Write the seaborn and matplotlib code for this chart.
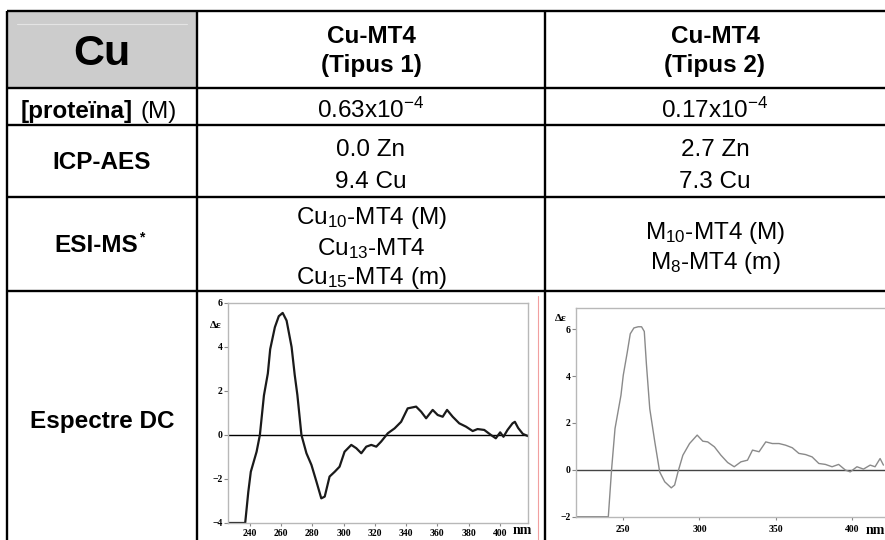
import numpy as np
import pandas as pd
import matplotlib
matplotlib.use("Agg")
import matplotlib.pyplot as plt
import seaborn as sns
from matplotlib.patches import Rectangle

sns.set_style("white")
plt.rcParams["font.family"] = ["Liberation Sans", "DejaVu Sans"]
plt.rcParams["mathtext.fontset"] = "custom"
plt.rcParams["mathtext.rm"] = "Liberation Sans"
plt.rcParams["mathtext.default"] = "regular"
plt.rcParams["text.color"] = "black"
plt.rcParams["xtick.color"] = "black"
plt.rcParams["ytick.color"] = "black"

# table text
col_top = ["Cu-MT4", "Cu-MT4"]
col_sub = ["(Tipus 1)", "(Tipus 2)"]
proteina = ["0.63x10$^{-4}$", "0.17x10$^{-4}$"]
icp_zn = ["0.0 Zn", "2.7 Zn"]
icp_cu = ["9.4 Cu", "7.3 Cu"]
esi_1 = ["Cu$_{10}$-MT4 (M)", "Cu$_{13}$-MT4", "Cu$_{15}$-MT4 (m)"]
esi_2 = ["M$_{10}$-MT4 (M)", "M$_{8}$-MT4 (m)"]

# CD spectrum, Tipus 1 (nm, delta epsilon)
nm_1 = [226, 237, 239, 240.6, 244.3, 246.4, 249, 251.5, 253, 256, 258.5, 261, 263.5,
        266.7, 268.7, 270.4, 273, 276.2, 279.4, 282.6, 285.7, 287.9, 291, 294.3, 297.4,
        300.6, 304.9, 308.1, 311.3, 314.5, 317.7, 320.9, 324, 328.3, 332.6, 336.8, 341,
        346.4, 349.6, 352.8, 357, 360.2, 363.4, 366.2, 369.8, 374, 378.3, 382.6, 385.7,
        390, 394.3, 397.4, 400.2, 402.3, 404.9, 408.1, 409.6, 411.7, 414.7, 418]
de_1 = [-4, -4, -2.58, -1.67, -0.76, 0, 1.8, 2.8, 3.9, 4.9, 5.4, 5.55, 5.2,
        4.0, 2.73, 1.82, 0, -0.83, -1.36, -2.12, -2.88, -2.8, -1.89, -1.67, -1.44,
        -0.76, -0.45, -0.6, -0.83, -0.53, -0.45, -0.53, -0.3, 0.08, 0.3, 0.6, 1.21,
        1.29, 1.06, 0.76, 1.14, 0.91, 0.83, 1.14, 0.83, 0.53, 0.38, 0.18, 0.27,
        0.23, 0, -0.15, 0.12, -0.08, 0.23, 0.53, 0.6, 0.32, 0.05, -0.05]

# CD spectrum, Tipus 2
nm_2 = [219, 240.2, 242.4, 244.6, 248.5, 250, 252.6, 254.6, 257, 259.8, 262, 263.8,
        265.2, 267.4, 270.7, 273.9, 277.2, 281.5, 283.7, 285.9, 289.1, 293.5, 298.5,
        302.2, 305.4, 309.8, 314.1, 318.5, 322.8, 327.2, 331.5, 334.8, 339.1, 343.5,
        347.8, 352.2, 356.5, 360.9, 365.2, 369.6, 373.9, 378.3, 382.6, 387, 391.3,
        395.7, 398.9, 403.3, 407.6, 412, 415.2, 418.5, 420.7]
de_2 = [-2, -2, 0.06, 1.76, 3.18, 4.03, 5.0, 5.8, 6.05, 6.1, 6.1, 5.9,
        4.5, 2.6, 1.19, -0.09, -0.51, -0.77, -0.65, -0.09, 0.62, 1.12, 1.48,
        1.22, 1.19, 0.98, 0.62, 0.31, 0.13, 0.34, 0.41, 0.84, 0.77, 1.19,
        1.12, 1.12, 1.05, 0.94, 0.70, 0.65, 0.55, 0.27, 0.23, 0.13, 0.23,
        -0.01, -0.09, 0.13, 0.03, 0.2, 0.13, 0.48, 0.2]

fig = plt.figure(figsize=(8.85, 5.4), dpi=100)

# background axes in pixel units for the table
bg = fig.add_axes([0, 0, 1, 1])
bg.set_xlim(0, 885)
bg.set_ylim(540, 0)
bg.axis("off")

bg.add_patch(Rectangle((7, 11), 190, 77, fc="#cccccc", ec="none"))
bg.plot([17, 187], [24, 24], color="#e4e4e4", lw=0.8)

for y in [11, 88, 125, 197, 291]:
    bg.plot([7, 885], [y, y], color="black", lw=1.7, solid_capstyle="butt")
for x in [7, 197, 545]:
    bg.plot([x, x], [11, 540], color="black", lw=1.7, solid_capstyle="butt")
bg.plot([538, 538], [296, 540], color="#f2a0a0", lw=0.8)

fs = 17.5
bg.text(102, 65, "Cu", fontsize=31, fontweight="bold", ha="center", va="baseline")
bg.text(133, 118, "[proteïna]", fontsize=fs, fontweight="bold", ha="right", va="baseline")
bg.text(140, 118, "(M)", fontsize=fs, ha="left", va="baseline")
bg.text(102, 169, "ICP-AES", fontsize=fs, fontweight="bold", ha="center", va="baseline")
bg.text(96, 252, "ESI-MS", fontsize=fs, fontweight="bold", ha="center", va="baseline")
bg.text(139, 241, "*", fontsize=10, fontweight="bold", ha="left", va="baseline")
bg.text(102, 428, "Espectre DC", fontsize=fs, fontweight="bold", ha="center", va="baseline")

cx = [371, 715]
for i in range(2):
    bg.text(cx[i], 43, col_top[i], fontsize=fs, fontweight="bold", ha="center", va="baseline")
    bg.text(cx[i], 72, col_sub[i], fontsize=fs, fontweight="bold", ha="center", va="baseline")
    bg.text(cx[i], 118, proteina[i], fontsize=fs, ha="center", va="baseline")
    bg.text(cx[i], 156, icp_zn[i], fontsize=fs, ha="center", va="baseline")
    bg.text(cx[i], 188, icp_cu[i], fontsize=fs, ha="center", va="baseline")

for s, yb in zip(esi_1, [224, 255, 284]):
    bg.text(cx[0], yb, s, fontsize=fs, ha="center", va="baseline")
for s, yb in zip(esi_2, [239, 269]):
    bg.text(cx[1], yb, s, fontsize=fs, ha="center", va="baseline")


def style_cd(ax, xticks, yticks, xpad):
    ax.set_xticks(xticks)
    ax.set_yticks(yticks)
    ax.set_xlabel("")
    ax.set_ylabel("")
    ax.tick_params(axis="y", length=3, width=0.8, color="#888888", labelcolor="black",
                   pad=1, left=True)
    ax.tick_params(axis="x", length=2, width=0.8, color="#888888", labelcolor="black",
                   pad=xpad, bottom=True)
    for lab in ax.get_xticklabels() + ax.get_yticklabels():
        lab.set_fontfamily("Liberation Serif")
        lab.set_fontweight("bold")
        lab.set_fontsize(7)
    for sp in ax.spines.values():
        sp.set_color("#b8b8b8")
        sp.set_linewidth(1.0)
    ax.set_facecolor("white")


# spectrum Tipus 1
ax1 = fig.add_axes([228 / 885, 17 / 540, 300 / 885, 220 / 540])
df1 = pd.DataFrame({"nm": nm_1, "de": de_1})
ax1.axhline(0, color="black", lw=1.0)
sns.lineplot(data=df1, x="nm", y="de", ax=ax1, color="#1a1a1a", lw=1.6,
             estimator=None, sort=False)
ax1.set_xlim(226, 418)
ax1.set_ylim(-4, 6)
style_cd(ax1, list(range(240, 401, 20)), [-4, -2, 0, 2, 4, 6], 2)
ax1.text(-0.04, 0.9, "Δε", transform=ax1.transAxes, ha="center", va="center",
         fontsize=8, fontweight="bold", family="Liberation Serif")
ax1.text(0.98, -0.036, "nm", transform=ax1.transAxes, ha="center", va="center",
         fontsize=10, fontweight="bold", family="Liberation Serif")

# spectrum Tipus 2
ax2 = fig.add_axes([576 / 885, 23.3 / 540, 314 / 885, 208.7 / 540])
df2 = pd.DataFrame({"nm": nm_2, "de": de_2})
ax2.axhline(0, color="#444444", lw=1.0)
sns.lineplot(data=df2, x="nm", y="de", ax=ax2, color="#8a8a8a", lw=1.0,
             estimator=None, sort=False)
ax2.set_xlim(219, 425)
ax2.set_ylim(-2, 6.9)
style_cd(ax2, [250, 300, 350, 400], [-2, 0, 2, 4, 6], 4)
ax2.text(-0.05, 0.952, "Δε", transform=ax2.transAxes, ha="center", va="center",
         fontsize=8, fontweight="bold", family="Liberation Serif")
ax2.text(0.952, -0.064, "nm", transform=ax2.transAxes, ha="center", va="center",
         fontsize=10, fontweight="bold", family="Liberation Serif")

fig.savefig("out.png", dpi=100)
